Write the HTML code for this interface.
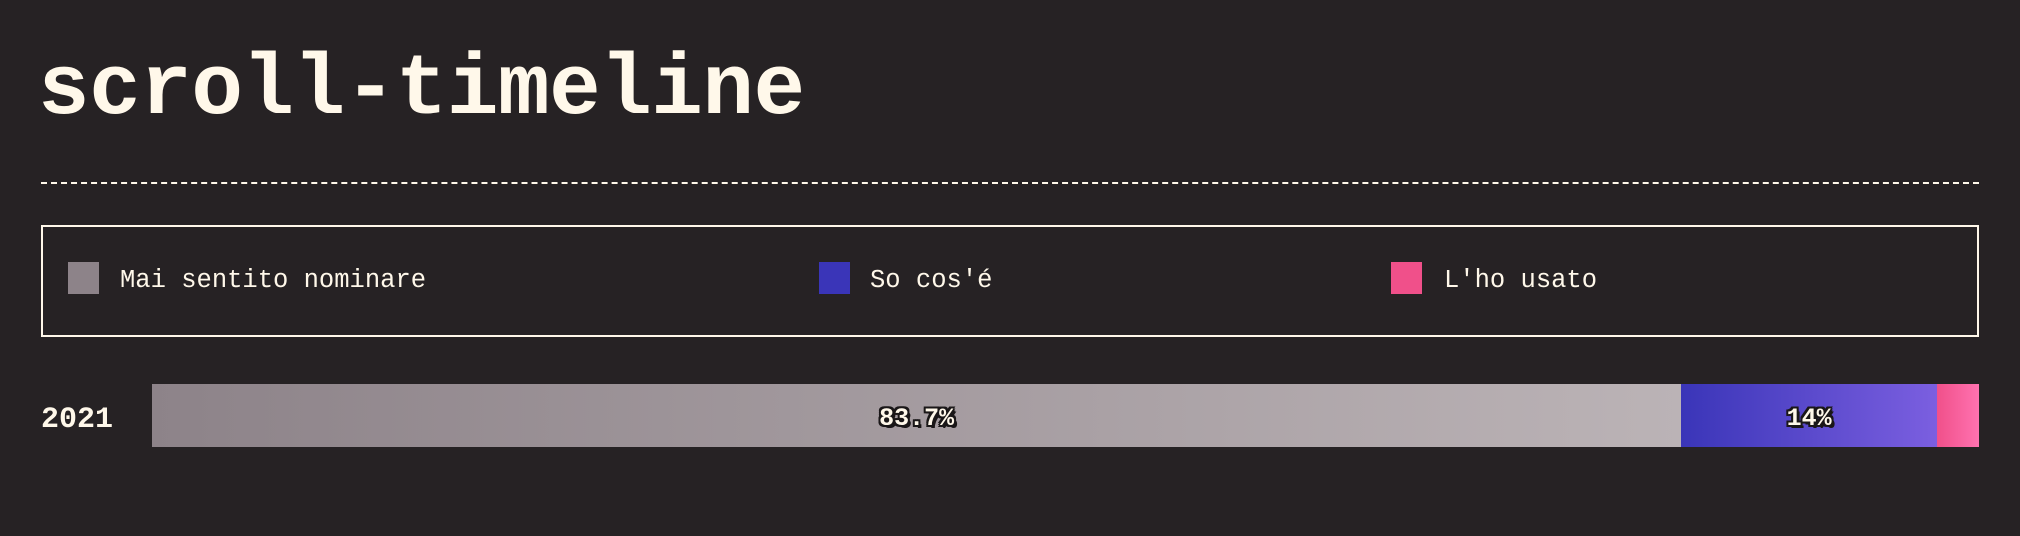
<!DOCTYPE html>
<html><head><meta charset="utf-8"><style>
body{margin:0;width:2020px;height:536px;background:#262224;overflow:hidden;font-family:"Liberation Mono","DejaVu Sans Mono",monospace;color:#fff8ea;position:relative}
.abs{position:absolute}
#title{left:38px;top:40px;font-size:86px;font-weight:bold;line-height:100px;letter-spacing:-0.5px}
#dash{left:41px;top:182px;width:1938px;border-top:2px dashed #fff8ea}
#legend{left:41px;top:225px;width:1934px;height:108px;border:2px solid #fff8ea}
.sw{width:31px;height:32px;top:35px}
.lt{top:35px;font-size:25.5px;line-height:38px}
#year{left:41px;top:402px;font-size:30px;font-weight:bold;line-height:36px}
.seg{top:384px;height:63px}
.val{position:absolute;left:0;right:0;top:3px;line-height:63px;text-align:center;font-size:25px;font-weight:bold;color:#fff8ea;text-shadow:-2px -2px 0 #1a1718,2px -2px 0 #1a1718,-2px 2px 0 #1a1718,2px 2px 0 #1a1718,0 2px 0 #1a1718,2px 0 0 #1a1718,-2px 0 0 #1a1718,0 -2px 0 #1a1718,3px 3px 0 #1a1718}
</style></head><body>
<div id="title" class="abs">scroll-timeline</div>
<div id="dash" class="abs"></div>
<div id="legend" class="abs">
 <div class="abs sw" style="left:25px;background:#8d8389"></div>
 <div class="abs lt" style="left:77px">Mai sentito nominare</div>
 <div class="abs sw" style="left:776px;background:#3a35b8"></div>
 <div class="abs lt" style="left:827px">So cos'é</div>
 <div class="abs sw" style="left:1348px;background:#f0508a"></div>
 <div class="abs lt" style="left:1401px">L'ho usato</div>
</div>
<div id="year" class="abs">2021</div>
<div id="bars"></div>
<script>
const categories=["Mai sentito nominare","So cos'é","L'ho usato"];
const values=[83.7,14,2.3];
const labels=["83.7%","14%",""];
const gradients=[["#8d8389","#bbb3b6"],["#3a35b8","#7b5fe0"],["#f0508a","#ff72b0"]];
const x0=152,x1=1979;
function xs(v){return (x1-x0)*v/100;}
const host=document.getElementById('bars');
let acc=0;
values.forEach((v,i)=>{
 const d=document.createElement('div');
 d.className='abs seg';
 
 
 const l=x0+xs(acc),w=xs(v);
 d.style.left=l+'px';d.style.width=w+'px';
 d.style.background='linear-gradient(to right,'+gradients[i][0]+','+gradients[i][1]+')';
 if(labels[i]){const t=document.createElement('div');t.className='val';t.textContent=labels[i];
 
 
 d.appendChild(t);}
 host.appendChild(d);acc+=v;
});
</script>
</body></html>
